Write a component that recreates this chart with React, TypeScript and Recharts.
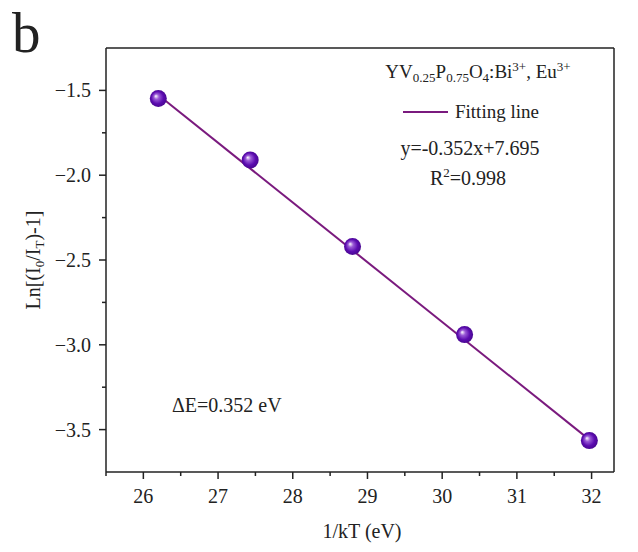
import {
  ComposedChart,
  Line,
  ReferenceLine,
  Scatter,
  XAxis,
  YAxis,
} from "recharts";

// 1/kT at 443, 423, 403, 383, 363 K
const invKT = [26.2, 27.43, 28.8, 30.3, 31.97];
const lnRatio = [-1.548, -1.91, -2.42, -2.94, -3.565];
// fitted line y = -0.352x + 7.695, drawn between first and last point
const fitX = [26.2, 31.97];
const fitY = [-1.527, -3.559];
const xTicks = [25.5, 26, 26.5, 27, 27.5, 28, 28.5, 29, 29.5, 30, 30.5, 31, 31.5, 32];
const yTicks = [-3.5, -3.25, -3, -2.75, -2.5, -2.25, -2, -1.75, -1.5];

const points = invKT.map((x, i) => ({ x, y: lnRatio[i] }));
const fit = fitX.map((x, i) => ({ x, y: fitY[i] }));

const FONT = '"Liberation Serif", "Times New Roman", serif';
const INK = "#222";
const LINE = "#7a1a7e";

const isMajor = (v: number, step: number) =>
  Math.abs(v / step - Math.round(v / step)) < 1e-6;

function XTick(props: any) {
  const { x, y, payload } = props;
  const v = payload.value as number;
  const major = isMajor(v, 1);
  return (
    <g>
      <line x1={x} x2={x} y1={y} y2={y + (major ? 7 : 4)} stroke={INK} strokeWidth={1.5} />
      {major && (
        <text x={x} y={y + 31} textAnchor="middle" fontSize={20} fontFamily={FONT} fill={INK}>
          {v}
        </text>
      )}
    </g>
  );
}

function YTick(props: any) {
  const { x, y, payload } = props;
  const v = payload.value as number;
  const major = isMajor(v, 0.5);
  return (
    <g>
      <line x1={x} x2={x - (major ? 7 : 4)} y1={y} y2={y} stroke={INK} strokeWidth={1.5} />
      {major && (
        <text x={x - 15} y={y + 7} textAnchor="end" fontSize={20} fontFamily={FONT} fill={INK}>
          {v.toFixed(1).replace("-", "\u2212")}
        </text>
      )}
    </g>
  );
}

function Ball(props: any) {
  const { cx, cy } = props;
  return <circle cx={cx} cy={cy} r={8.5} fill="url(#ball)" />;
}

export default function App() {
  return (
    <div style={{ position: "absolute", left: 0, top: 0, width: 638, height: 552, background: "#fff" }}>
      <ComposedChart
        width={638}
        height={552}
        margin={{ top: 48, right: 24, bottom: 20, left: 46 }}
      >
        <defs>
          <radialGradient id="ball" cx="50%" cy="50%" r="55%" fx="35%" fy="35%">
            <stop offset="0%" stopColor="#ffffff" />
            <stop offset="28%" stopColor="#9a5ad6" />
            <stop offset="65%" stopColor="#5c0cb0" />
            <stop offset="100%" stopColor="#44068a" />
          </radialGradient>
        </defs>
        <XAxis
          type="number"
          dataKey="x"
          domain={[25.5, 32.3]}
          ticks={xTicks}
          interval={0}
          height={60}
          tickSize={0}
          tickMargin={0}
          tickLine={false}
          tick={XTick}
          axisLine={{ stroke: INK, strokeWidth: 1.5 }}
          allowDataOverflow
        />
        <YAxis
          type="number"
          dataKey="y"
          domain={[-3.75, -1.25]}
          ticks={yTicks}
          interval={0}
          width={60}
          tickSize={0}
          tickMargin={0}
          tickLine={false}
          tick={YTick}
          axisLine={{ stroke: INK, strokeWidth: 1.5 }}
          allowDataOverflow
        />
        <ReferenceLine y={-1.25} stroke={INK} strokeWidth={1.5} />
        <ReferenceLine x={32.3} stroke={INK} strokeWidth={1.5} />
        <Line
          data={fit}
          dataKey="y"
          type="linear"
          stroke={LINE}
          strokeWidth={2}
          dot={false}
          activeDot={false}
          isAnimationActive={false}
        />
        <Scatter data={points} dataKey="y" shape={Ball} isAnimationActive={false} />
      </ComposedChart>
      <svg
        width={638}
        height={552}
        style={{ position: "absolute", left: 0, top: 0, pointerEvents: "none" }}
        fontFamily={FONT}
        fill={INK}
      >
        <text x={12} y={52} fontSize={57}>b</text>
        <text x={478} y={78} fontSize={19} textAnchor="middle">
          YV<tspan fontSize={13} dy={4}>0.25</tspan>
          <tspan dy={-4}>P</tspan>
          <tspan fontSize={13} dy={4}>0.75</tspan>
          <tspan dy={-4}>O</tspan>
          <tspan fontSize={13} dy={4}>4</tspan>
          <tspan dy={-4}>:Bi</tspan>
          <tspan fontSize={13} dy={-7}>3+</tspan>
          <tspan dy={7}>, Eu</tspan>
          <tspan fontSize={13} dy={-7}>3+</tspan>
        </text>
        <line x1={403} x2={448} y1={112} y2={112} stroke={LINE} strokeWidth={2} />
        <text x={455} y={118} fontSize={19}>Fitting line</text>
        <text x={470} y={155} fontSize={20} textAnchor="middle">y=-0.352x+7.695</text>
        <text x={468} y={185} fontSize={20} textAnchor="middle">
          R<tspan fontSize={13} dy={-8}>2</tspan>
          <tspan dy={8}>=0.998</tspan>
        </text>
        <text x={172} y={412} fontSize={20}>ΔE=0.352 eV</text>
        <text x={362} y={538} fontSize={20} textAnchor="middle">1/kT (eV)</text>
        <text
          transform="translate(40, 260) rotate(-90)"
          fontSize={20}
          textAnchor="middle"
        >
          Ln[(I<tspan fontSize={13} dy={4}>0</tspan>
          <tspan dy={-4}>/I</tspan>
          <tspan fontSize={13} dy={4}>T</tspan>
          <tspan dy={-4}>)-1]</tspan>
        </text>
      </svg>
    </div>
  );
}
